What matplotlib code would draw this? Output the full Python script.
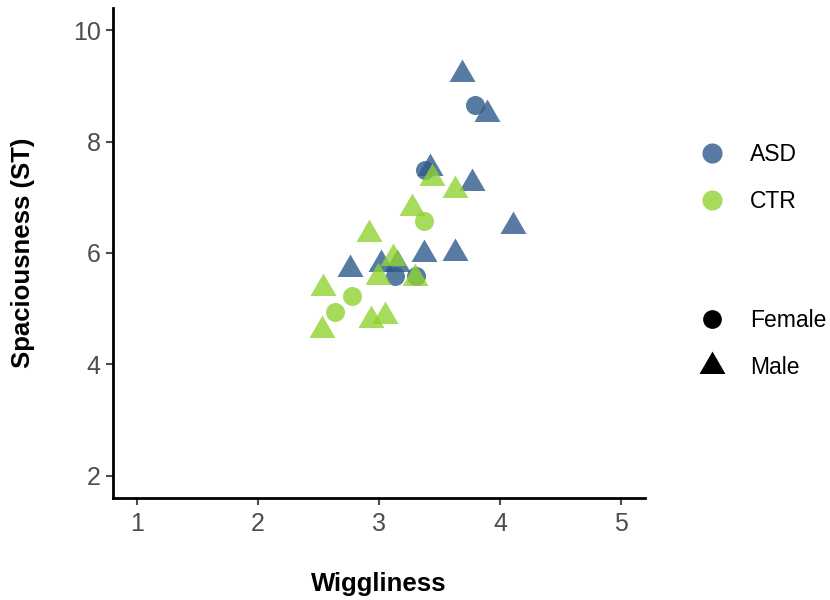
import matplotlib
matplotlib.use("Agg")
import matplotlib.pyplot as plt
from matplotlib.path import Path
from matplotlib.lines import Line2D
import numpy as np

plt.rcParams['font.family'] = ['Liberation Sans', 'DejaVu Sans']

# ---- data ----
asd_f_x = [3.793, 3.38, 3.135, 3.306]
asd_f_y = [8.655, 7.49, 5.59, 5.58]
asd_m_x = [3.683, 3.895, 3.42, 3.769, 4.11, 3.372, 3.628, 2.76, 3.02, 3.15]
asd_m_y = [9.22, 8.49, 7.53, 7.25, 6.49, 5.98, 5.995, 5.71, 5.80, 5.80]
ctr_f_x = [3.375, 2.78, 2.636]
ctr_f_y = [6.58, 5.235, 4.936]
ctr_m_x = [3.435, 3.628, 3.27, 2.92, 3.113, 2.995, 3.30, 2.54, 3.05, 2.93, 2.53]
ctr_m_y = [7.34, 7.125, 6.80, 6.335, 5.915, 5.575, 5.556, 5.38, 4.86, 4.79, 4.61]

group_labels = ["ASD", "CTR"]
sex_labels = ["Female", "Male"]
x_ticks = [1, 2, 3, 4, 5]
y_ticks = [2, 4, 6, 8, 10]

ASD_C = "#2E5A8C"
CTR_C = "#90D333"
ALPHA = 0.8

# triangle centered on centroid (like R pch 17)
tri = Path([(0, 1), (-0.866, -0.5), (0.866, -0.5), (0, 1)],
           [Path.MOVETO, Path.LINETO, Path.LINETO, Path.CLOSEPOLY])

fig = plt.figure(figsize=(8.3, 6.0), dpi=100)
ax = fig.add_axes([113/830, 102/600, 532/830, 490/600])

S_CIRC = 13.7 ** 2
S_TRI = 21.6 ** 2

ax.scatter(asd_m_x, asd_m_y, s=S_TRI, marker=tri, color=ASD_C, alpha=ALPHA, linewidths=0)
ax.scatter(asd_f_x, asd_f_y, s=S_CIRC, marker='o', color=ASD_C, alpha=ALPHA, linewidths=0)
ax.scatter(ctr_m_x, ctr_m_y, s=S_TRI, marker=tri, color=CTR_C, alpha=ALPHA, linewidths=0)
ax.scatter(ctr_f_x, ctr_f_y, s=S_CIRC, marker='o', color=CTR_C, alpha=ALPHA, linewidths=0)

ax.set_xlim(0.8, 5.2)
ax.set_ylim(1.6, 10.4)
ax.set_xticks(x_ticks)
ax.set_yticks(y_ticks)
ax.set_xticklabels([str(t) for t in x_ticks])
ax.set_yticklabels([str(t) for t in y_ticks])

for side in ['top', 'right']:
    ax.spines[side].set_visible(False)
for side in ['left', 'bottom']:
    ax.spines[side].set_linewidth(2.0)
    ax.spines[side].set_color('black')

ax.tick_params(axis='both', which='major', labelsize=18, colors='#4D4D4D',
               length=5, width=1.5, pad=4)
ax.tick_params(axis='x', pad=5)

ax.set_xlabel("Wiggliness", fontsize=18.5, fontweight='bold', labelpad=26)
ax.set_ylabel("Spaciousness (ST)", fontsize=18.5, fontweight='bold', labelpad=27)

# legends
h1 = [Line2D([], [], marker='o', linestyle='', color=ASD_C, alpha=ALPHA, markersize=14.5, markeredgewidth=0),
      Line2D([], [], marker='o', linestyle='', color=CTR_C, alpha=ALPHA, markersize=14.5, markeredgewidth=0)]
h2 = [Line2D([], [], marker='o', linestyle='', color='black', markersize=13.5, markeredgewidth=0),
      Line2D([], [], marker=tri, linestyle='', color='black', markersize=21.6, markeredgewidth=0)]

common = dict(loc='center left', frameon=False, fontsize=16.5, handlelength=1.2,
              handletextpad=1.08, labelspacing=1.05, borderpad=0, borderaxespad=0)
leg1 = fig.legend(h1, group_labels, bbox_to_anchor=(698/830, 1 - 178/600), **common)
leg2 = fig.legend(h2, sex_labels, bbox_to_anchor=(698/830, 1 - 344/600), **common)

fig.savefig("out.png", dpi=100)
